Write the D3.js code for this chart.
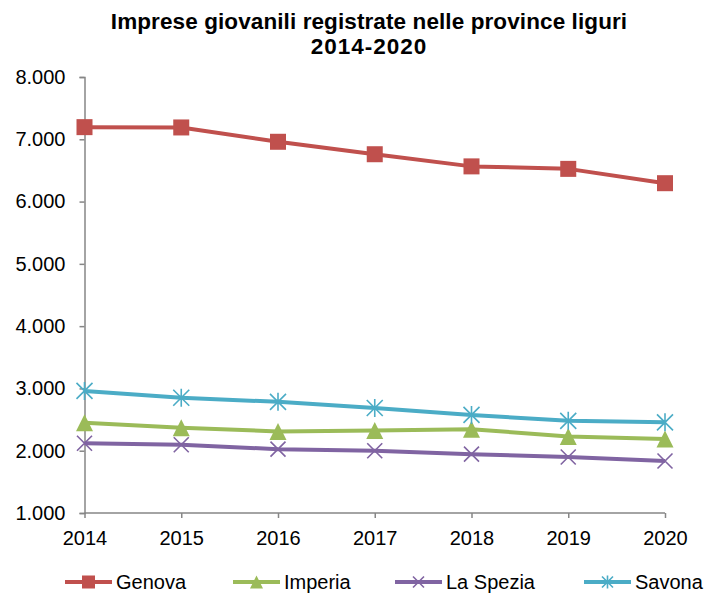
<!DOCTYPE html>
<html><head><meta charset="utf-8">
<script src="https://cdn.jsdelivr.net/npm/d3@7"></script>
<style>body{margin:0;background:#fff}svg{display:block}text{font-family:"Liberation Sans",Arial,sans-serif}</style>
</head><body>
<svg id="c" width="705" height="594"></svg>
<script>
const years = ["2014","2015","2016","2017","2018","2019","2020"];
const genova   = [7195, 7190, 6960, 6760, 6565, 6525, 6295];
const imperia  = [2450, 2370, 2310, 2325, 2345, 2230, 2190];
const laSpezia = [2120, 2095, 2025, 2000, 1945, 1900, 1835];
const savona   = [2960, 2850, 2785, 2685, 2575, 2480, 2455];
const seriesNames = ["Genova","Imperia","La Spezia","Savona"];
const colors = ["#C0504D","#9BBB59","#8064A2","#4BACC6"];
const markers = ["square","triangle","x","asterisk"];
const yTicks = [1000,2000,3000,4000,5000,6000,7000,8000];
const titleLines = ["Imprese giovanili registrate nelle province liguri","2014-2020"];

const series = [genova, imperia, laSpezia, savona];
const svg = d3.select("#c");
const x = d3.scalePoint().domain(years).range([84.5, 665]);
const y = d3.scaleLinear().domain([1000, 8000]).range([513, 77]);
const fmt = d => d3.format(",")(d).replace(/,/g, ".");
const FONT = "Liberation Sans, Arial, sans-serif";

// title
svg.append("g").selectAll("text").data(titleLines).join("text")
  .attr("x", 369).attr("y", (d,i)=>29 + i*25)
  .attr("text-anchor","middle").attr("font-size",22.5).attr("font-weight","bold")
  .attr("letter-spacing",(d,i)=> i===1 ? 1 : 0.1)
  .attr("fill","#000").text(d=>d);

// y axis
const ya = svg.append("g").attr("transform","translate(84.5,0)")
  .call(d3.axisLeft(y).tickValues(yTicks).tickFormat(fmt).tickSize(5).tickPadding(14));
ya.select(".domain").attr("stroke","#868686").attr("stroke-width",1.5);
ya.selectAll(".tick line").attr("stroke","#868686").attr("stroke-width",1.5);
ya.selectAll("text").attr("font-size",20).attr("fill","#000").attr("font-family",FONT);

// x axis
const xa = svg.append("g").attr("transform","translate(0,513)")
  .call(d3.axisBottom(x).tickSize(5).tickPadding(13));
xa.select(".domain").attr("stroke","#868686").attr("stroke-width",1.5).attr("d","M84.5,0H665");
xa.selectAll(".tick line").attr("stroke","#868686").attr("stroke-width",1.5);
xa.selectAll("text").attr("font-size",20).attr("fill","#000").attr("font-family",FONT);

function drawMarker(g, type, color, cx, cy, s) {
  const h = s/2;
  if (type==="square") {
    g.append("rect").attr("x",cx-h).attr("y",cy-h).attr("width",s).attr("height",s).attr("fill",color);
  } else if (type==="triangle") {
    g.append("path").attr("d",`M${cx},${cy-h-1}L${cx+h+1},${cy+h+1}L${cx-h-1},${cy+h+1}Z`).attr("fill",color);
  } else if (type==="x") {
    g.append("path").attr("d",`M${cx-h},${cy-h}L${cx+h},${cy+h}M${cx-h},${cy+h}L${cx+h},${cy-h}`)
      .attr("stroke",color).attr("stroke-width",1.6).attr("fill","none");
  } else {
    g.append("path").attr("d",`M${cx-h},${cy-h}L${cx+h},${cy+h}M${cx-h},${cy+h}L${cx+h},${cy-h}M${cx},${cy-h-1}L${cx},${cy+h+1}`)
      .attr("stroke",color).attr("stroke-width",1.6).attr("fill","none");
  }
}

const line = d3.line().x((d,i)=>x(years[i])).y(d=>y(d));
const msize = [16, 15, 15, 16];
series.forEach((vals, si) => {
  const g = svg.append("g");
  g.append("path").datum(vals).attr("d", line).attr("fill","none")
    .attr("stroke", colors[si]).attr("stroke-width", 4).attr("stroke-linejoin","round");
  vals.forEach((v,i)=> drawMarker(g, markers[si], colors[si], x(years[i]), y(v), msize[si]));
});

// legend
const legX = [65, 233, 395, 584];
seriesNames.forEach((n, i) => {
  const g = svg.append("g");
  const lx = legX[i];
  g.append("line").attr("x1",lx).attr("x2",lx+47).attr("y1",582).attr("y2",582)
    .attr("stroke",colors[i]).attr("stroke-width",4);
  drawMarker(g, markers[i], colors[i], lx+23.5, 582, i===0?13:11);
  g.append("text").attr("x",lx+51).attr("y",588.5).attr("font-size",20).attr("fill","#000")
    .attr("font-family",FONT).text(n);
});
</script>
</body></html>
